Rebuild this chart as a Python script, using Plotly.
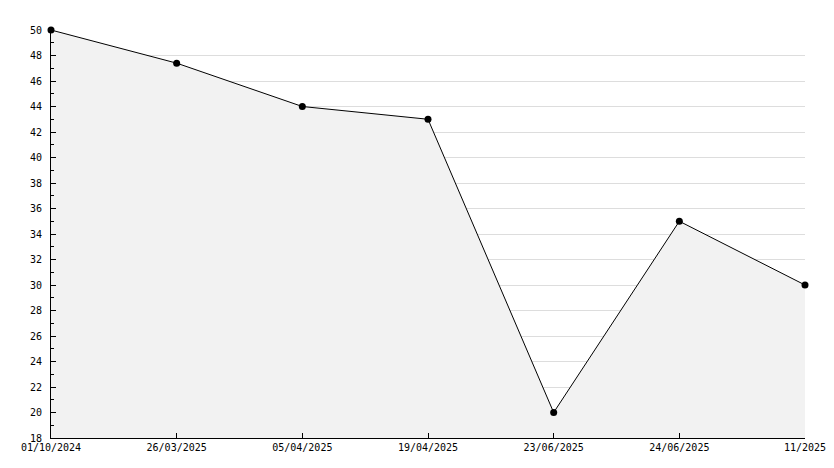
import plotly.graph_objects as go

categories = ["01/10/2024", "26/03/2025", "05/04/2025", "19/04/2025", "23/06/2025", "24/06/2025", "11/2025"]
values = [50, 47.4, 44, 43, 20, 35, 30]

fig = go.Figure()
fig.add_trace(go.Scatter(
    x=list(range(len(categories))), y=values,
    mode="lines+markers",
    line=dict(color="black", width=1),
    marker=dict(color="black", size=7, symbol="circle"),
    fill="tozeroy", fillcolor="#f2f2f2",
    showlegend=False,
    cliponaxis=False,
))

font = dict(family="DejaVu Sans Mono", size=10, color="black")
fig.update_layout(
    width=826, height=452,
    margin=dict(l=43, r=29, t=22, b=22),
    paper_bgcolor="white", plot_bgcolor="white",
    font=font,
    xaxis=dict(
        range=[0, len(categories) - 1],
        tickmode="array", tickvals=list(range(len(categories))), ticktext=categories,
        showgrid=False, zeroline=False,
        showline=True, linecolor="black", linewidth=1,
        ticks="inside", ticklen=5, tickcolor="black",
        tickfont=font, automargin=False, ticklabeloverflow="allow",
    ),
    yaxis=dict(
        range=[18, 50], dtick=2, tick0=18,
        showgrid=True, gridcolor="#dddddd", gridwidth=1,
        zeroline=False,
        showline=True, linecolor="black", linewidth=1,
        ticks="inside", ticklen=5, tickcolor="black",
        minor=dict(dtick=1, ticks="inside", ticklen=3, tickcolor="black", showgrid=False),
        tickfont=font, automargin=False, ticklabelstandoff=6,
    ),
)

fig.write_html("out.html")
